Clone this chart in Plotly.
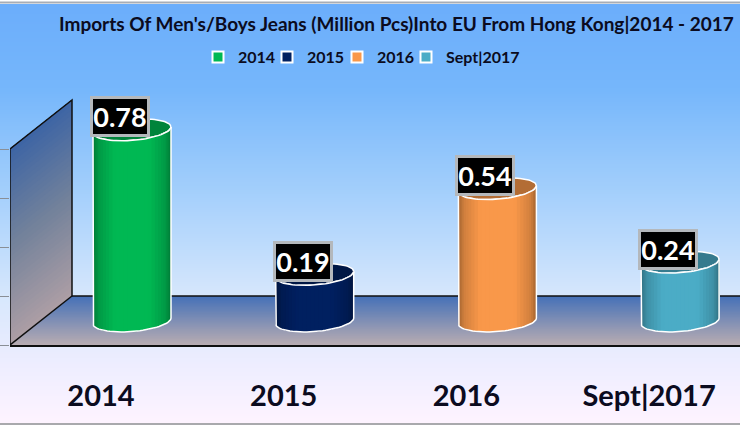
import plotly.graph_objects as go
import numpy as np

categories = ["2014", "2015", "2016", "Sept|2017"]
values = [0.78, 0.19, 0.54, 0.24]
labels = ["0.78", "0.19", "0.54", "0.24"]
colors = ["#00b853", "#002060", "#f9984a", "#4bacc6"]
title = "Imports Of Men's/Boys Jeans (Million Pcs)Into EU From Hong Kong|2014 - 2017"

W, H, BOT = 740, 430, 85
PH = H - BOT
UNIT_X = 182.7
UNIT_Y = 245.0
X0 = 132.0
xr = [(10 - X0) / UNIT_X, (740 - X0) / UNIT_X]
yr = [0, PH / UNIT_Y]
px = lambda d: d / UNIT_X
py = lambda d: d / UNIT_Y
BASE = py(24)
HALF = px(39)
B = py(10.5)
TILT = py(3)
DX, DY, WALL = px(62), py(49), 0.8
LEGEND_LEFT = [198, 267, 337, 406]


def mix(stops, t):
    ts = [s[0] for s in stops]
    return "rgb(%d,%d,%d)" % tuple(np.interp(t, ts, [s[1][i] for s in stops]) for i in range(3))


def shade(hexc, f):
    r, g, b = [int(hexc[i:i + 2], 16) for i in (1, 3, 5)]
    return "rgb(%d,%d,%d)" % (r * f, g * f, b * f)


shapes = []
bg = [(0, (108, 174, 251)), (0.2, (118, 183, 251)), (0.45, (165, 208, 252)), (0.7, (216, 232, 253)),
      (0.84, (236, 237, 255)), (1, (255, 244, 255))]
for y in range(4, 424, 2):
    shapes.append(dict(type="rect", xref="paper", yref="paper", x0=0, x1=1, y0=(PH - y - 2.5) / PH,
                       y1=(PH - y) / PH, line_width=0, fillcolor=mix(bg, (y - 4) / 420), layer="below"))
for y, c in [(2.5, "#a8adb5"), (424, "#a9a9ad")]:
    shapes.append(dict(type="line", xref="paper", yref="paper", x0=0, x1=1, y0=(PH - y) / PH, y1=(PH - y) / PH,
                       line=dict(color=c, width=2), layer="below"))

x_l = xr[0]
floor_stops = [(0, (68, 112, 184)), (1, (184, 172, 178))]
wall_stops = [(0, (60, 100, 165)), (0.5, (115, 130, 155)), (1, (172, 158, 165))]
N = 40
for k in range(N):
    t0 = k / N
    yb, yt = DY * t0, DY
    xb, xt = x_l + DX * t0, x_l + DX
    shapes.append(dict(type="path", layer="below", line_width=0, fillcolor=mix(floor_stops, 1 - t0),
                       path=f"M{xb},{yb} L{xr[1]},{yb} L{xr[1]},{yt} L{xt},{yt} Z"))
for k in range(N):
    t0 = k / N
    a = WALL * t0
    shapes.append(dict(type="path", layer="below", line_width=0, fillcolor=mix(wall_stops, 1 - t0),
                       path=f"M{x_l},{a} L{x_l + DX},{a + DY} L{x_l + DX},{WALL + DY} L{x_l},{WALL} Z"))
outline = [f"M{x_l},0 L{x_l},{WALL} L{x_l + DX},{WALL + DY} L{x_l + DX},{DY} Z",
           f"M{x_l + DX},{DY} L{xr[1]},{DY}"]
for p in outline:
    shapes.append(dict(type="path", layer="below", path=p, line=dict(color="#101010", width=1.5)))

fig = go.Figure()
legend_ids = ["legend", "legend2", "legend3", "legend4"]
for i, (c, v, col) in enumerate(zip(categories, values, colors)):
    fig.add_trace(go.Scatter(x=[i], y=[BASE + v], name=f"<b>{c}</b>", mode="markers", hoverinfo="skip",
                             legend=legend_ids[i],
                             marker=dict(symbol="square", size=11, color=col, line=dict(color="white", width=2))))

S = 30
for i, (v, col) in enumerate(zip(values, colors)):
    top = BASE + v
    th = np.linspace(0, 2 * np.pi, 80)
    ex, ey = i + HALF * np.cos(th), top + B * np.sin(th) + TILT * np.cos(th)
    fig.add_trace(go.Scatter(x=ex, y=ey, mode="lines", fill="toself", fillcolor=shade(col, 0.72),
                             line=dict(color="white", width=1.5), showlegend=False, hoverinfo="skip"))
    edges = np.linspace(np.pi, 0, S + 1)
    for a0, a1 in zip(edges[:-1], edges[1:]):
        am = (a0 + a1) / 2
        u = abs(np.cos(am))
        f = float(np.interp(u, [0, 0.45, 0.85, 1], [1.0, 1.0, 0.84, 0.66]))
        arc = np.linspace(a0, 0, 24)
        xs = i + HALF * np.cos(arc)
        low = BASE - B * np.sin(arc) + TILT * np.cos(arc)
        high = top - B * np.sin(arc) + TILT * np.cos(arc)
        fig.add_trace(go.Scatter(x=np.r_[xs, xs[::-1]], y=np.r_[low, high[::-1]], mode="lines", fill="toself",
                                 fillcolor=shade(col, f), line=dict(width=0),
                                 showlegend=False, hoverinfo="skip"))
    arc = np.linspace(np.pi, 0, 40)
    rx = i + HALF * np.cos(arc)
    ly = BASE - B * np.sin(arc) + TILT * np.cos(arc)
    hy = top - B * np.sin(arc) + TILT * np.cos(arc)
    fig.add_trace(go.Scatter(x=np.r_[rx[0], rx, rx[-1]], y=np.r_[hy[0], ly, hy[-1]], mode="lines",
                             line=dict(color="white", width=1.5), showlegend=False, hoverinfo="skip"))
    fig.add_trace(go.Scatter(x=rx, y=hy, mode="lines", line=dict(color="white", width=1.5),
                             showlegend=False, hoverinfo="skip"))

ann = []
for i, (v, t) in enumerate(zip(values, labels)):
    ann.append(dict(x=i, y=BASE + v, text=f"<b>{t}</b>", showarrow=False, xshift=-12, yshift=13, width=54, height=35,
                    bgcolor="#000000", bordercolor="#b4b8bc", borderwidth=3, borderpad=0,
                    font=dict(family="Lato", size=27, color="white")))

legends = {}
for lid, left in zip(legend_ids, LEGEND_LEFT):
    legends[lid] = dict(orientation="h", x=left / W, xanchor="left", y=(PH - 57) / PH, yanchor="middle",
                        bgcolor="rgba(0,0,0,0)", font=dict(family="Lato", size=16, color="#0b0b20"), itemwidth=30)

fig.update_layout(
    width=W, height=H, margin=dict(l=0, r=0, t=0, b=BOT), paper_bgcolor="white", plot_bgcolor="rgba(0,0,0,0)",
    shapes=shapes, annotations=ann, showlegend=True,
    title=dict(text=f"<b>{title}</b>", x=59 / W, xanchor="left", y=1 - 24 / H, yanchor="middle",
               font=dict(family="Lato", size=19, color="#0b0b20")),
    xaxis=dict(domain=[10 / W, 1], range=xr, tickmode="array", tickvals=[i - px(31) for i in range(4)],
               ticktext=[f"<b>{c}</b>" for c in categories], ticks="", showgrid=False, zeroline=False,
               showline=True, linecolor="#101010", linewidth=2, ticklabelstandoff=24,
               tickfont=dict(family="Lato", size=29, color="#0b0b20"), fixedrange=True),
    yaxis=dict(range=yr, tickmode="array", tickvals=[0, 0.2, 0.4, 0.6, 0.8], showticklabels=False, ticks="outside",
               ticklen=10, tickcolor="#8a8f96", tickwidth=1, showgrid=False, zeroline=False, showline=False, fixedrange=True),
    **legends,
)
fig.write_html("out.html", config={"displayModeBar": False}, post_script="document.body.style.margin='0';")
